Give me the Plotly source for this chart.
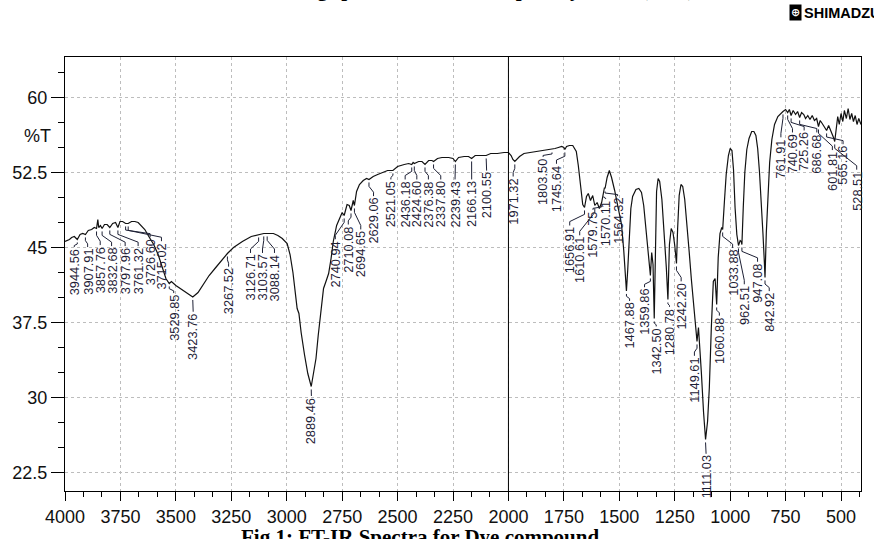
import numpy as np
import plotly.graph_objects as go

# ---------------- spectrum (wavenumber in cm-1, %T) ----------------
wavenumber = [
    4000, 3990, 3980, 3970, 3958, 3944.56, 3932, 3920, 3907.91, 3895, 3880, 3868,
    3857.76, 3852, 3848, 3840, 3832.68, 3822, 3810, 3797.96, 3785, 3772, 3761.32,
    3752, 3740, 3726.60, 3715.02, 3700, 3685, 3670, 3655, 3640, 3622, 3600, 3580,
    3560, 3545, 3529.85, 3520, 3500, 3475, 3450, 3423.76, 3400, 3375, 3350, 3320,
    3295, 3267.52, 3240, 3200, 3160, 3126.71, 3103.57, 3088.14, 3060, 3040, 3020,
    2998, 2985, 2972, 2960, 2953, 2945, 2935, 2920, 2905, 2889.46, 2878, 2868,
    2858, 2845, 2834, 2820, 2811, 2800, 2790, 2775, 2760, 2750, 2740.94, 2728,
    2718, 2710.08, 2700, 2694.65, 2685, 2672, 2655, 2640, 2629.06, 2610, 2590,
    2570, 2545, 2521.05, 2500, 2470, 2450, 2436.18, 2430, 2424.60, 2405, 2390,
    2376.38, 2360, 2345, 2337.80, 2320, 2300, 2270, 2250, 2239.43, 2225, 2200,
    2180, 2166.13, 2150, 2125, 2100.55, 2080, 2050, 2020, 2000, 1988, 1980,
    1971.32, 1962, 1950, 1930, 1900, 1870, 1840, 1815, 1803.50, 1790, 1775, 1760,
    1750, 1745.64, 1738, 1725, 1710, 1700, 1694, 1685, 1679, 1670, 1665, 1656.91,
    1648, 1640, 1630, 1620, 1610.61, 1600, 1590, 1579.75, 1575, 1570.11, 1567,
    1564.32, 1555, 1545, 1535, 1521, 1505, 1490, 1480, 1472, 1467.88, 1462, 1455,
    1448, 1440, 1425, 1412, 1400, 1390, 1380, 1370, 1362, 1359.86, 1354, 1348,
    1342.50, 1337, 1332, 1325, 1318, 1308, 1298, 1288, 1280.78, 1274, 1266, 1258,
    1250, 1242.20, 1237, 1230, 1222, 1214, 1205, 1195, 1185, 1175, 1165, 1155,
    1149.61, 1143, 1137, 1130, 1120, 1111.03, 1102, 1094, 1085, 1076, 1068,
    1060.88, 1054, 1046, 1038, 1033.88, 1026, 1018, 1008, 1000, 992, 985, 978,
    970, 962.51, 955, 950, 947.08, 941, 934, 925, 915, 903, 893, 884, 876, 868,
    860, 852, 846, 842.92, 837, 830, 822, 812, 800, 785, 770, 761.91, 750,
    740.69, 733, 725.26, 716, 705, 696, 686.68, 678, 668, 660, 650, 640, 630,
    620, 610, 601.81, 594, 585, 577, 565.16, 556, 548, 540, 534, 528.51, 522,
    515, 508, 500, 492, 485, 476, 468, 460, 452, 444, 436, 428, 420, 410,
]
transmittance = [
    45.6, 45.7, 45.8, 46.0, 46.1, 45.8, 46.3, 46.4, 46.3, 46.7, 46.8, 47.0,
    46.9, 47.8, 47.0, 47.2, 46.9, 47.3, 47.3, 47.0, 47.4, 47.5, 47.0,
    47.6, 47.6, 47.4, 47.4, 47.6, 47.6, 47.5, 47.2, 46.8, 46.1, 45.3, 44.3,
    43.0, 41.9, 41.4, 41.6, 41.2, 40.8, 40.4, 40.05, 40.5, 41.3, 42.2, 43.0,
    43.7, 44.4, 45.0, 45.6, 46.1, 46.3, 46.4, 46.4, 46.4, 46.2, 45.9,
    45.4, 44.3, 42.5, 40.0, 38.9, 38.4, 36.5, 34.3, 32.4, 31.1, 32.5, 33.9,
    36.2, 39.0, 40.9, 41.8, 42.4, 43.9, 45.6, 47.2, 48.1, 48.5, 48.2, 49.3,
    49.2, 48.7, 49.7, 49.2, 50.6, 51.3, 51.7, 51.9, 51.8, 52.1, 52.3,
    52.5, 52.7, 52.7, 53.1, 53.3, 53.4, 53.3, 53.5, 53.4, 53.6, 53.6,
    53.3, 53.7, 53.7, 53.6, 53.9, 54.0, 54.0, 53.9, 53.6, 54.0, 54.1,
    54.1, 53.9, 54.2, 54.2, 54.2, 54.4, 54.4, 54.5, 54.5, 54.2, 53.8,
    53.6, 53.8, 54.1, 54.4, 54.5, 54.6, 54.7, 54.8, 54.8, 54.9, 55.0, 55.1,
    55.0, 54.8, 55.1, 55.2, 55.2, 54.9, 54.6, 53.2, 52.0, 50.2, 49.3, 49.0,
    50.1, 50.4, 49.7, 50.2, 49.2, 49.5, 48.9, 49.5, 50.0, 50.4, 51.0,
    50.9, 52.0, 52.7, 52.0, 50.7, 48.9, 47.3, 44.7, 42.0, 40.65, 42.8, 46.5,
    48.9, 50.1, 50.8, 50.9, 50.5, 49.2, 46.8, 44.2, 42.6, 42.2, 44.5, 43.3,
    37.9, 45.8, 50.6, 51.9, 51.6, 49.8, 46.8, 43.0, 39.8, 45.3, 46.9, 46.5,
    45.2, 43.4, 46.9, 50.2, 51.3, 51.1, 49.8, 47.5, 44.6, 41.8, 39.2, 36.7,
    35.6, 37.0, 35.2, 32.5, 28.5, 25.8, 27.6, 31.0, 37.0, 41.6, 41.9,
    39.3, 44.0, 46.4, 47.0, 46.8, 49.6, 52.3, 54.2, 54.9, 54.7, 52.8, 49.0,
    46.3, 45.2, 45.7, 45.6, 45.3, 49.0, 52.5, 54.8, 55.9, 56.6, 56.6, 56.2, 54.9, 52.6,
    49.8, 46.3, 43.6, 42.0, 46.5, 50.5, 53.5, 55.8, 57.3, 58.1, 58.5, 58.6, 58.8,
    58.5, 58.8, 58.2, 58.7, 58.3, 58.6, 58.0, 58.5, 58.3, 57.9, 58.2, 57.8, 58.2,
    57.7, 57.9, 57.1, 57.7, 57.4, 57.1, 56.7, 57.2, 56.8, 56.4, 56.0, 55.6, 56.8,
    58.1, 57.3, 58.4, 57.6, 58.7, 57.9, 58.9, 57.8, 58.4, 57.6, 58.2, 57.3, 57.9, 57.3,
]

# labelled peaks (cm-1)
peak_wavenumbers = [
    3944.56, 3907.91, 3857.76, 3832.68, 3797.96, 3761.32, 3726.60, 3715.02,
    3529.85, 3423.76, 3267.52, 3126.71, 3103.57, 3088.14, 2889.46, 2740.94,
    2710.08, 2694.65, 2629.06, 2521.05, 2436.18, 2424.60, 2376.38, 2337.80,
    2239.43, 2166.13, 2100.55, 1971.32, 1803.50, 1745.64, 1656.91, 1610.61,
    1579.75, 1570.11, 1564.32, 1467.88, 1359.86, 1342.50, 1280.78, 1242.20,
    1149.61, 1111.03, 1060.88, 1033.88, 962.51, 947.08, 842.92, 761.91,
    740.69, 725.26, 686.68, 601.81, 565.16, 528.51,
]

x_tick_values = [4000, 3750, 3500, 3250, 3000, 2750, 2500, 2250, 2000,
                 1750, 1500, 1250, 1000, 750, 500]
y_tick_values = [22.5, 30, 37.5, 45, 52.5, 60]
y_tick_text = ["22.5", "30", "37.5", "45", "52.5", "60"]

# ---------------- page geometry ----------------
W, H = 874, 539
M_L, M_R, M_T, M_B = 64, 12, 57, 39
PW, PH = W - M_L - M_R, H - M_T - M_B
X_RANGE = [4000, 410]
Y_RANGE = [20.65, 64.05]

# peak-label placement on the page: (centre x px, top y px)
label_place = [
    (73.3, 252), (86.7, 252), (99.3, 250), (110.7, 251), (124.3, 251), (137.3, 251),
    (149.3, 242), (160.7, 246), (173, 299), (192.5, 318), (228, 272), (250, 258),
    (262, 258), (274, 258), (311, 404), (335, 244), (348, 229), (360.5, 234),
    (373.3, 200), (390.7, 183), (405, 183), (416.7, 183), (428.3, 183), (440.7, 183),
    (455, 183), (471.7, 183), (486.7, 174), (513.3, 180), (543.3, 160), (556.7, 167),
    (570, 230), (580, 240), (593.3, 214), (606, 203), (618, 200), (630, 307),
    (645, 293), (656.7, 333), (670, 313), (681.7, 287), (695, 363), (706.7, 463),
    (720, 322), (733.3, 253), (745, 290), (758.3, 267), (770, 297), (781.7, 140),
    (793.3, 135), (805, 133), (817.7, 135), (833.3, 153), (844, 147), (857.7, 173),
]


def x_to_px(x):
    return M_L + (X_RANGE[0] - x) / (X_RANGE[0] - X_RANGE[1]) * PW


def px_to_x(px):
    return X_RANGE[0] - (px - M_L) / PW * (X_RANGE[0] - X_RANGE[1])


def y_to_py(y):
    return M_T + (Y_RANGE[1] - y) / (Y_RANGE[1] - Y_RANGE[0]) * PH


def py_to_y(py):
    return Y_RANGE[1] - (py - M_T) / PH * (Y_RANGE[1] - Y_RANGE[0])


def paper_x(px):
    return (px - M_L) / PW


def paper_y(py):
    return (M_T + PH - py) / PH


wn_arr = np.array(wavenumber, dtype=float)
t_arr = np.array(transmittance, dtype=float)

fig = go.Figure()

fig.add_trace(go.Scatter(
    x=wn_arr, y=t_arr, mode="lines",
    line=dict(color="#111111", width=1.2),
    hoverinfo="skip", showlegend=False,
))

# leader lines from each peak to its label
lx, ly = [], []
annotations = []
LABEL_COLOR = "#1d2035"
for wn, (cx, top) in zip(peak_wavenumbers, label_place):
    t_peak = float(np.interp(wn, wn_arr[::-1], t_arr[::-1]))
    xp, yp = x_to_px(wn), y_to_py(t_peak)
    start = yp + 3
    end = top - 1
    seg = max(min(4.0, (end - start) / 3.0), 0.5)
    pts = [(xp, start), (xp, start + seg), (cx, end - seg), (cx, end)]
    for px, py in pts:
        lx.append(px_to_x(px))
        ly.append(py_to_y(py))
    lx.append(None)
    ly.append(None)
    annotations.append(dict(
        x=px_to_x(cx), y=py_to_y(top), xref="x", yref="y",
        text=f"{wn:.2f}", textangle=-90, showarrow=False,
        xanchor="center", yanchor="top", borderpad=0,
        font=dict(family="Liberation Sans, Arial, sans-serif", size=12.8, color=LABEL_COLOR),
    ))

fig.add_trace(go.Scatter(
    x=lx, y=ly, mode="lines", line=dict(color=LABEL_COLOR, width=1),
    hoverinfo="skip", showlegend=False, connectgaps=False,
))

# y-axis unit
annotations.append(dict(
    x=paper_x(36), y=paper_y(138), xref="paper", yref="paper", text="%T",
    showarrow=False, xanchor="center", yanchor="middle",
    font=dict(family="Liberation Sans, Arial, sans-serif", size=18, color="#111111"),
))

# heading (upper part lies beyond the page edge)
annotations.append(dict(
    x=paper_x(470), y=paper_y(1.5), xref="paper", yref="paper",
    text="<b>Scanning spectrum of the complex by FTIR (KBr)</b>",
    showarrow=False, xanchor="center", yanchor="bottom",
    font=dict(family="Liberation Serif, Times New Roman, serif", size=21, color="#000000"),
))

# caption (lower part lies beyond the page edge)
annotations.append(dict(
    x=paper_x(238), y=paper_y(533), xref="paper", yref="paper",
    text="<b>Fig.1: FT-IR Spectra for Dye compound</b>",
    showarrow=False, xanchor="left", yanchor="top",
    font=dict(family="Liberation Serif, Times New Roman, serif", size=21, color="#000000"),
))

# instrument logo
annotations.append(dict(
    x=paper_x(796), y=paper_y(12), xref="paper", yref="paper", text="<b>⊕</b>",
    showarrow=False, xanchor="center", yanchor="middle", bgcolor="#000000",
    borderpad=1, font=dict(family="DejaVu Sans, sans-serif", size=11, color="#ffffff"),
))
annotations.append(dict(
    x=paper_x(803), y=paper_y(12), xref="paper", yref="paper", text="<b>SHIMADZU</b>",
    showarrow=False, xanchor="left", yanchor="middle",
    font=dict(family="Liberation Sans, Arial, sans-serif", size=14.5, color="#000000"),
))

fig.update_layout(
    width=W, height=H,
    margin=dict(l=M_L, r=M_R, t=M_T, b=M_B, pad=0),
    paper_bgcolor="white", plot_bgcolor="white",
    annotations=annotations,
    shapes=[dict(type="line", xref="x", yref="paper", x0=2000, x1=2000, y0=0, y1=1,
                 line=dict(color="#000000", width=1))],
    showlegend=False,
)

fig.update_xaxes(
    range=X_RANGE, tickmode="array", tickvals=x_tick_values,
    ticktext=[str(v) for v in x_tick_values],
    ticks="outside", ticklen=9, tickwidth=1, tickcolor="#000000",
    showline=True, linecolor="#000000", linewidth=1, mirror=True,
    showgrid=True, gridcolor="#bdbdbd", griddash="dot", gridwidth=1,
    zeroline=False,
    tickfont=dict(family="Liberation Sans, Arial, sans-serif", size=18, color="#111111"),
    minor=dict(tickmode="linear", tick0=500, dtick=250 / 3, ticks="outside",
               ticklen=5, tickcolor="#000000", showgrid=False),
)
fig.update_yaxes(
    range=Y_RANGE, tickmode="array", tickvals=y_tick_values, ticktext=y_tick_text,
    ticks="outside", ticklen=13, tickwidth=1, tickcolor="#000000",
    showline=True, linecolor="#000000", linewidth=1, mirror=True,
    showgrid=True, gridcolor="#bdbdbd", griddash="dot", gridwidth=1,
    zeroline=False,
    tickfont=dict(family="Liberation Sans, Arial, sans-serif", size=18, color="#111111"),
    minor=dict(tickmode="linear", tick0=22.5, dtick=2.5, ticks="outside",
               ticklen=6, tickcolor="#000000", showgrid=False),
)

fig.write_html("out.html")
